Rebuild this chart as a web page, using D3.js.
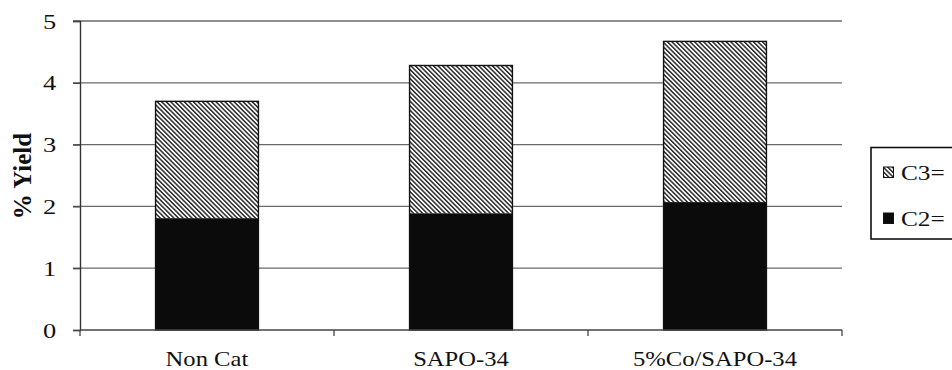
<!DOCTYPE html>
<html>
<head>
<meta charset="utf-8">
<script src="https://cdn.jsdelivr.net/npm/d3@7/dist/d3.min.js"></script>
<style>
  html, body { margin: 0; padding: 0; background: #fff; }
  svg { display: block; }
  .wide { transform-box: fill-box; transform-origin: center; transform: scaleX(1.2); }
</style>
</head>
<body>
<svg id="chart" width="952" height="370"></svg>
<script>
// Olefin yields per catalyst
const categories = ["Non Cat", "SAPO-34", "5%Co/SAPO-34"];
const c2Values = [1.81, 1.89, 2.07];
const c3Values = [1.89, 2.39, 2.60];
const seriesNames = ["C2=", "C3="];
const yTicks = [0, 1, 2, 3, 4, 5];

const svg = d3.select("#chart");
const font = "'Liberation Serif', 'Times New Roman', serif";

const plotLeft = 80, plotRight = 842, plotTop = 21, plotBottom = 330;

const x = d3.scaleBand().domain(categories).range([plotLeft, plotRight]).padding(0);
const y = d3.scaleLinear().domain([0, 5]).range([plotBottom, plotTop]);
const barW = x.bandwidth() * 0.405;

// hatch pattern for C3=
const defs = svg.append("defs");
const pat = defs.append("pattern")
  .attr("id", "hatch")
  .attr("patternUnits", "userSpaceOnUse")
  .attr("width", 3.2).attr("height", 10)
  .attr("patternTransform", "rotate(-45)");
pat.append("rect").attr("width", 3.2).attr("height", 10).attr("fill", "#fff");
pat.append("rect").attr("x", 0).attr("width", 1.5).attr("height", 10).attr("fill", "#2a2a2a");

// horizontal gridlines (extending left as tick marks)
svg.append("g").selectAll("line").data(yTicks.filter(d => d > 0)).join("line")
  .attr("x1", plotLeft - 7).attr("x2", plotRight)
  .attr("y1", d => y(d)).attr("y2", d => y(d))
  .attr("stroke", "#6a6a6a").attr("stroke-width", 1.3);

// y axis
const yAxis = svg.append("g").attr("transform", `translate(${plotLeft},0)`)
  .call(d3.axisLeft(y).tickValues(yTicks).tickSize(7).tickPadding(18).tickFormat(d3.format("d")));
yAxis.select(".domain").attr("stroke", "#333").attr("stroke-width", 1.4);
yAxis.selectAll(".tick line").attr("stroke", "#444").attr("stroke-width", 1.3);
yAxis.selectAll(".tick text")
  .attr("font-family", font).attr("font-size", 22).attr("fill", "#111")
  .attr("class", "wide");

// stacked bars
const stack = categories.map((c, i) => ({ cat: c, c2: c2Values[i], c3: c3Values[i] }));
const bars = svg.append("g");
bars.selectAll("rect.c2").data(stack).join("rect")
  .attr("class", "c2")
  .attr("x", d => x(d.cat) + (x.bandwidth() - barW) / 2)
  .attr("width", barW)
  .attr("y", d => y(d.c2))
  .attr("height", d => y(0) - y(d.c2))
  .attr("fill", "#0b0b0b");
bars.selectAll("rect.c3").data(stack).join("rect")
  .attr("class", "c3")
  .attr("x", d => x(d.cat) + (x.bandwidth() - barW) / 2)
  .attr("width", barW)
  .attr("y", d => y(d.c2 + d.c3))
  .attr("height", d => y(d.c2) - y(d.c2 + d.c3))
  .attr("fill", "url(#hatch)");
bars.selectAll("rect.outline").data(stack).join("rect")
  .attr("class", "outline")
  .attr("x", d => x(d.cat) + (x.bandwidth() - barW) / 2)
  .attr("width", barW)
  .attr("y", d => y(d.c2 + d.c3))
  .attr("height", d => y(0) - y(d.c2 + d.c3))
  .attr("fill", "none").attr("stroke", "#111").attr("stroke-width", 1.4);

// x axis with ticks on category boundaries
const xAxisG = svg.append("g");
xAxisG.append("line")
  .attr("x1", plotLeft).attr("x2", plotRight).attr("y1", plotBottom).attr("y2", plotBottom)
  .attr("stroke", "#444").attr("stroke-width", 1.4);
const bounds = d3.range(categories.length + 1).map(i => plotLeft + i * x.step());
xAxisG.selectAll("line.b").data(bounds).join("line")
  .attr("class", "b")
  .attr("x1", d => d).attr("x2", d => d)
  .attr("y1", plotBottom).attr("y2", plotBottom + 6)
  .attr("stroke", "#444").attr("stroke-width", 1.3);
xAxisG.selectAll("text").data(categories).join("text")
  .attr("x", d => x(d) + x.bandwidth() / 2)
  .attr("y", 366)
  .attr("text-anchor", "middle")
  .attr("font-family", font).attr("font-size", 20.5).attr("fill", "#111")
  .attr("class", "wide")
  .text(d => d);

// y axis title
svg.append("text")
  .attr("transform", `translate(31,176) rotate(-90)`)
  .attr("text-anchor", "middle")
  .attr("font-family", font).attr("font-size", 25).attr("font-weight", "bold").attr("fill", "#111")
  .text("% Yield");

// legend
const lg = svg.append("g");
lg.append("rect")
  .attr("x", 871).attr("y", 147.5).attr("width", 110).attr("height", 91.5)
  .attr("fill", "#fff").attr("stroke", "#111").attr("stroke-width", 1.6);
const legendItems = [
  { name: seriesNames[1], fill: "url(#hatch)", yc: 172.5 },
  { name: seriesNames[0], fill: "#0b0b0b", yc: 218.5 }
];
legendItems.forEach(it => {
  lg.append("rect")
    .attr("x", 883.5).attr("y", it.yc - 5.5).attr("width", 10).attr("height", 10.5)
    .attr("fill", it.fill).attr("stroke", "#111").attr("stroke-width", 1);
  lg.append("text")
    .attr("x", 901).attr("y", it.yc + 8)
    .attr("font-family", font).attr("font-size", 22).attr("fill", "#111")
    .style("transform-box", "fill-box").style("transform-origin", "left center")
    .style("transform", "scaleX(1.15)")
    .text(it.name);
});
</script>
</body>
</html>
